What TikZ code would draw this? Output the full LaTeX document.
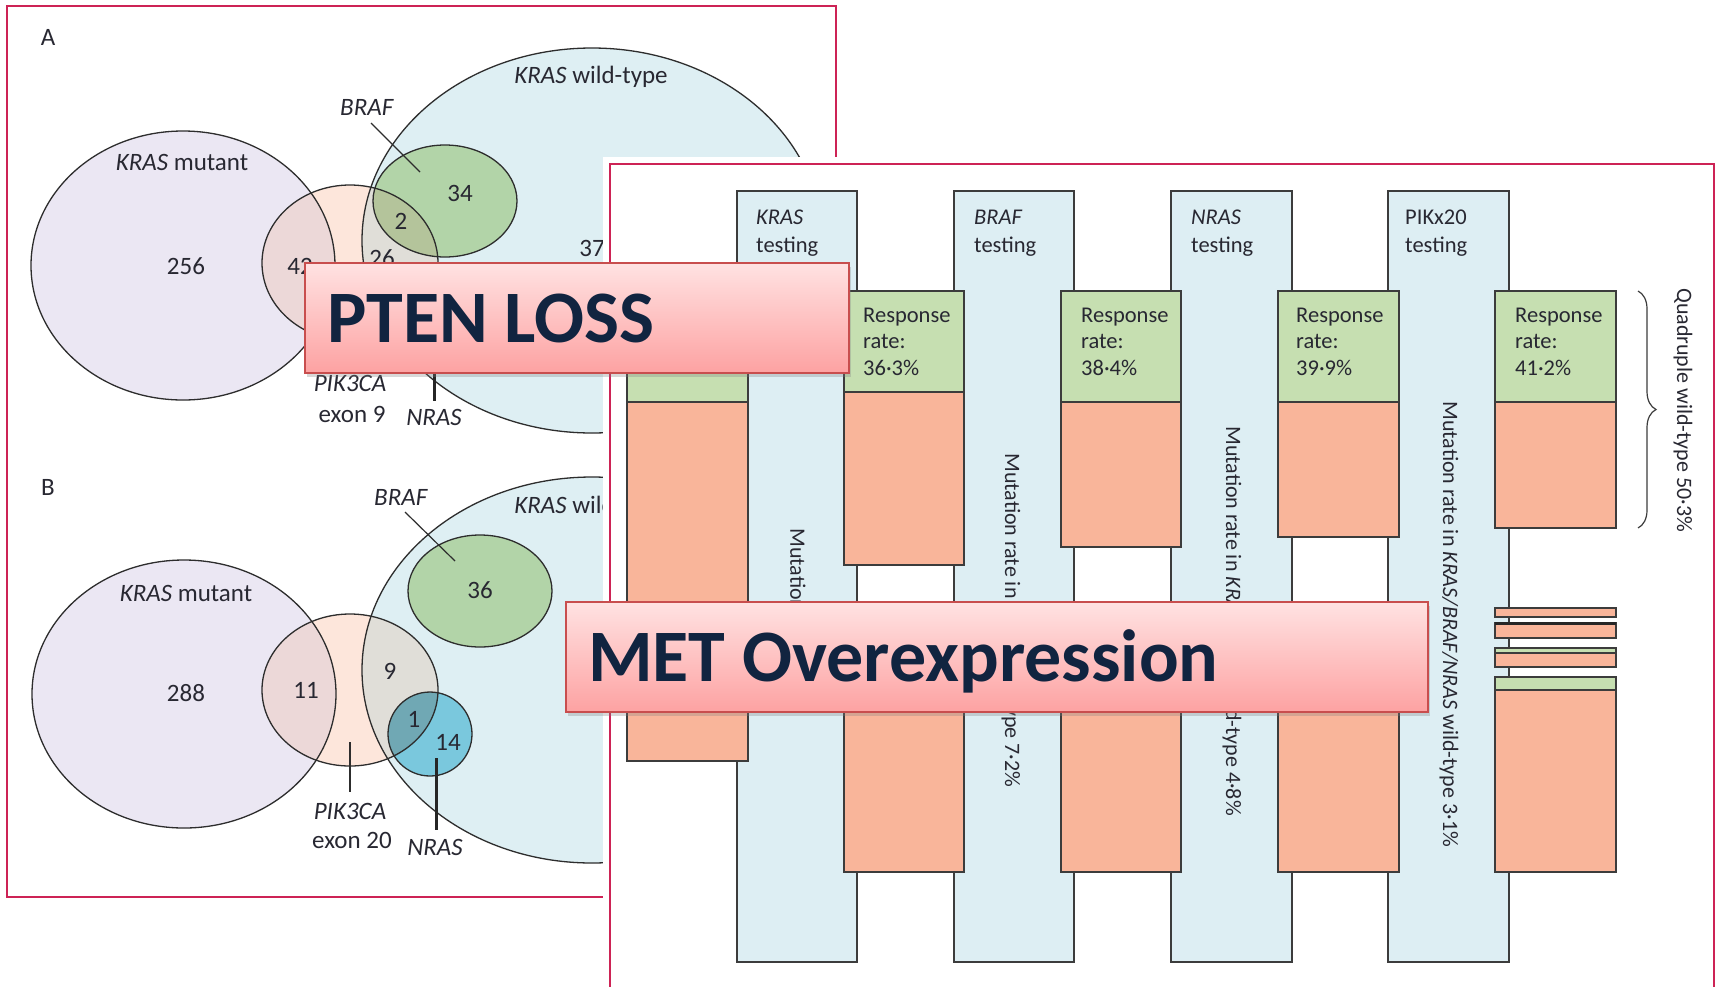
\documentclass[tikz,border=0pt]{standalone}
\usepackage{fontspec}
\setmainfont{Carlito}
\usetikzlibrary{shadows,decorations.pathreplacing}
\definecolor{framered}{RGB}{205,35,85}
\definecolor{lav}{RGB}{235,231,243}
\definecolor{peach}{RGB}{253,230,219}
\definecolor{mutpik}{RGB}{236,216,216}
\definecolor{wtc}{RGB}{222,239,243}
\definecolor{wtpik}{RGB}{224,222,216}
\definecolor{brafc}{RGB}{178,212,168}
\definecolor{brafpik}{RGB}{180,196,155}
\definecolor{nrasc}{RGB}{122,200,221}
\definecolor{nraspik}{RGB}{112,168,180}
\definecolor{vline}{RGB}{45,45,45}
\definecolor{txt}{RGB}{40,40,50}
\definecolor{colblue}{RGB}{221,238,243}
\definecolor{grn}{RGB}{198,223,177}
\definecolor{slm}{RGB}{249,181,154}
\definecolor{edge}{RGB}{60,60,60}
\definecolor{pinktop}{RGB}{255,226,226}
\definecolor{pinkbot}{RGB}{253,162,162}
\definecolor{boxedge}{RGB}{200,78,78}
\definecolor{navy}{RGB}{17,36,64}
\begin{document}
\begin{tikzpicture}[x=1pt,y=-1pt,
  vtext/.style={font=\fontsize{25}{29}\selectfont, text=txt, inner sep=0},
  rtext/.style={font=\fontsize{22.5}{27}\selectfont, text=txt, inner sep=0, anchor=base west},
  rottext/.style={font=\fontsize{22}{26}\selectfont, text=txt, inner sep=0, rotate=-90, anchor=west},
  vout/.style={draw=vline, line width=1.3pt},
  colbox/.style={fill=colblue, draw=edge, line width=1.5pt},
  grnbox/.style={fill=grn, draw=edge, line width=1.5pt},
  slmbox/.style={fill=slm, draw=edge, line width=1.5pt},
  pinkbox/.style={draw=boxedge, line width=1.5pt, top color=pinktop, bottom color=pinkbot,
     drop shadow={opacity=0.3, shadow xshift=2pt, shadow yshift=-4pt}},
  bigtext/.style={font=\fontsize{74}{80}\selectfont\bfseries, text=navy, inner sep=0, anchor=base west},
  frameline/.style={draw=framered, line width=2pt},
  leader/.style={draw=vline, line width=1.2pt},
  thickleader/.style={draw=black!85, line width=3pt}
]
\useasboundingbox (0,0) rectangle (1718,986);
\clip (0,0) rectangle (1718,986);
\fill[white] (0,0) rectangle (1718,986);

% ---------- left panel ----------
\draw[frameline] (6.5,6) rectangle (836,897);

% Panel A
\coordinate (amut) at (183,265.5);
\coordinate (apik) at (350,263);
\coordinate (awt) at (592,240.5);
\coordinate (abraf) at (445,201);
\fill[wtc] (awt) ellipse [x radius=230pt, y radius=192.5pt];
\fill[lav] (amut) ellipse [x radius=152pt, y radius=134.5pt];
\fill[peach] (apik) ellipse [x radius=88pt, y radius=78pt];
\begin{scope}
  \clip (apik) ellipse [x radius=88pt, y radius=78pt];
  \fill[mutpik] (amut) ellipse [x radius=152pt, y radius=134.5pt];
  \fill[wtpik] (awt) ellipse [x radius=230pt, y radius=192.5pt];
\end{scope}
\fill[brafc] (abraf) ellipse [x radius=72pt, y radius=56pt];
\begin{scope}
  \clip (apik) ellipse [x radius=88pt, y radius=78pt];
  \fill[brafpik] (abraf) ellipse [x radius=72pt, y radius=56pt];
\end{scope}
\draw[vout] (awt) ellipse [x radius=230pt, y radius=192.5pt];
\draw[vout] (amut) ellipse [x radius=152pt, y radius=134.5pt];
\draw[vout] (apik) ellipse [x radius=88pt, y radius=78pt];
\draw[vout] (abraf) ellipse [x radius=72pt, y radius=56pt];

\node[vtext] (lblA) at (48,37) {A};
\node[vtext] (amutl) at (182,162) {\textit{KRAS} mutant};
\node[vtext] (an256) at (186,266) {256};
\node[vtext] (an42) at (300,266) {42};
\node[vtext] (an26) at (382,258) {26};
\node[vtext] (an2) at (401,221) {2};
\node[vtext] (an34) at (460,193) {34};
\node[vtext] (abrafl) at (367,107) {\textit{BRAF}};
\node[vtext] (awtl) at (591,77) {\textit{KRAS} wild-type};
\node[vtext] (an37) at (592,248) {37};
\node[vtext] (apikl) at (350,383) {\textit{PIK3CA}};
\node[vtext] (aexon) at (352,414) {exon 9};
\node[vtext] (anrasl) at (434,417) {\textit{NRAS}};
\coordinate (abrafa) at (371,123);
\coordinate (abrafb) at (420,172);
\draw[leader] (abrafa) -- (abrafb);
\coordinate (anrasa) at (434,350);
\coordinate (anrasb) at (434,401);
\draw[thickleader] (anrasa) -- (anrasb);

% Panel B
\coordinate (bmut) at (184,694);
\coordinate (bpik) at (350,690);
\coordinate (bwt) at (592,670);
\coordinate (bbraf) at (480,591);
\coordinate (bnras) at (430,734);
\fill[wtc] (bwt) ellipse [x radius=230pt, y radius=193pt];
\fill[lav] (bmut) ellipse [x radius=152pt, y radius=134pt];
\fill[peach] (bpik) ellipse [x radius=88pt, y radius=76pt];
\begin{scope}
  \clip (bpik) ellipse [x radius=88pt, y radius=76pt];
  \fill[mutpik] (bmut) ellipse [x radius=152pt, y radius=134pt];
  \fill[wtpik] (bwt) ellipse [x radius=230pt, y radius=193pt];
\end{scope}
\fill[brafc] (bbraf) ellipse [x radius=72pt, y radius=56pt];
\fill[nrasc] (bnras) circle [radius=42pt];
\begin{scope}
  \clip (bpik) ellipse [x radius=88pt, y radius=76pt];
  \fill[nraspik] (bnras) circle [radius=42pt];
\end{scope}
\draw[vout] (bwt) ellipse [x radius=230pt, y radius=193pt];
\draw[vout] (bmut) ellipse [x radius=152pt, y radius=134pt];
\draw[vout] (bpik) ellipse [x radius=88pt, y radius=76pt];
\draw[vout] (bbraf) ellipse [x radius=72pt, y radius=56pt];
\draw[vout] (bnras) circle [radius=42pt];

\node[vtext] (lblB) at (48,487) {B};
\node[vtext] (bmutl) at (186,593) {\textit{KRAS} mutant};
\node[vtext] (bn288) at (186,693) {288};
\node[vtext] (bn11) at (306,690) {11};
\node[vtext] (bn9) at (390,671) {9};
\node[vtext] (bn36) at (480,590) {36};
\node[vtext] (bn1) at (414,719) {1};
\node[vtext] (bn14) at (448,742) {14};
\node[vtext] (bbrafl) at (401,497) {\textit{BRAF}};
\node[vtext] (bwtl) at (591,507) {\textit{KRAS} wild-type};
\node[vtext] (bpikl) at (350,811) {\textit{PIK3CA}};
\node[vtext] (bexon) at (352,840) {exon 20};
\node[vtext] (bnrasl) at (435,847) {\textit{NRAS}};
\coordinate (bbrafa) at (405,512);
\coordinate (bbrafb) at (455,561);
\draw[leader] (bbrafa) -- (bbrafb);
\coordinate (bpika) at (350,742);
\coordinate (bpikb) at (350,792);
\draw[leader] (bpika) -- (bpikb);
\coordinate (bnrasa) at (436,758);
\coordinate (bnrasb) at (436,830);
\draw[thickleader] (bnrasa) -- (bnrasb);

% ---------- right panel ----------
\fill[white] (603,157) rectangle (1730,1000);
\draw[frameline] (610,1000) -- (610,164) -- (1714,164) -- (1714,1000);

% testing columns
\draw[colbox] (737,191) rectangle (857,962);
\draw[colbox] (954,191) rectangle (1074,962);
\draw[colbox] (1171,191) rectangle (1292,962);
\draw[colbox] (1388,191) rectangle (1509,962);

% bar 0
\draw[grnbox] (627,291) rectangle (748,402);
\draw[slmbox] (627,402) rectangle (748,761);
% bar 1
\draw[grnbox] (844,291) rectangle (964,392);
\draw[slmbox] (844,392) rectangle (964,565);
\draw[slmbox] (844,690) rectangle (964,872);
% bar 2
\draw[grnbox] (1061,291) rectangle (1181,402);
\draw[slmbox] (1061,402) rectangle (1181,547);
\draw[slmbox] (1061,690) rectangle (1181,872);
% bar 3
\draw[grnbox] (1278,291) rectangle (1399,402);
\draw[slmbox] (1278,402) rectangle (1399,537);
\draw[slmbox] (1278,690) rectangle (1399,872);
% bar 4
\draw[grnbox] (1495,291) rectangle (1616,402);
\draw[slmbox] (1495,402) rectangle (1616,528);
\draw[slmbox] (1495,608) rectangle (1616,617);
\draw[slmbox] (1495,623) rectangle (1616,638);
\draw[draw=black!85, line width=3pt] (1495,623) -- (1616,623);
\draw[grnbox] (1495,648) rectangle (1616,653);
\draw[slmbox] (1495,653) rectangle (1616,667);
\draw[grnbox] (1495,677) rectangle (1616,690);
\draw[slmbox] (1495,690) rectangle (1616,872);

% column headers
\node[rtext] (h1a) at (756,224) {\textit{KRAS}};
\node[rtext] (h1b) at (756,252) {testing};
\node[rtext] (h2a) at (974,224) {\textit{BRAF}};
\node[rtext] (h2b) at (974,252) {testing};
\node[rtext] (h3a) at (1191,224) {\textit{NRAS}};
\node[rtext] (h3b) at (1191,252) {testing};
\node[rtext] (h4a) at (1405,224) {PIKx20};
\node[rtext] (h4b) at (1405,252) {testing};

% response rates
\node[rtext] (r1a) at (863,322) {Response};
\node[rtext] (r1b) at (863,348) {rate:};
\node[rtext] (r1c) at (863,375) {36·3\%};
\node[rtext] (r2a) at (1081,322) {Response};
\node[rtext] (r2b) at (1081,348) {rate:};
\node[rtext] (r2c) at (1081,375) {38·4\%};
\node[rtext] (r3a) at (1296,322) {Response};
\node[rtext] (r3b) at (1296,348) {rate:};
\node[rtext] (r3c) at (1296,375) {39·9\%};
\node[rtext] (r4a) at (1515,322) {Response};
\node[rtext] (r4b) at (1515,348) {rate:};
\node[rtext] (r4c) at (1515,375) {41·2\%};

% rotated mutation rate texts
\node[rottext] (m1) at (798,528) {Mutation rate};
\node[rottext] (m2) at (1011,453) {Mutation rate in \textit{KRAS} wild-type 7·2\%};
\node[rottext] (m3) at (1232,426) {Mutation rate in \textit{KRAS/BRAF} wild-type 4·8\%};
\node[rottext] (m4) at (1449,401) {Mutation rate in \textit{KRAS/BRAF/NRAS} wild-type 3·1\%};
\node[rottext] (quad) at (1683,288) {Quadruple wild-type 50·3\%};

% brace
\coordinate (brA) at (1638,291);
\coordinate (brB) at (1638,528);
\draw[draw=edge, line width=1.2pt, decorate, decoration={brace, amplitude=18pt}] (brA) -- (brB);

% ---------- overlay boxes ----------
\path[pinkbox] (305,263) rectangle (849,373);
\node[bigtext] (pten) at (327,342) {PTEN LOSS};
\path[pinkbox] (566,602) rectangle (1428,712);
\node[bigtext] (met) at (588,681) {MET Overexpression};
\end{tikzpicture}
\end{document}
